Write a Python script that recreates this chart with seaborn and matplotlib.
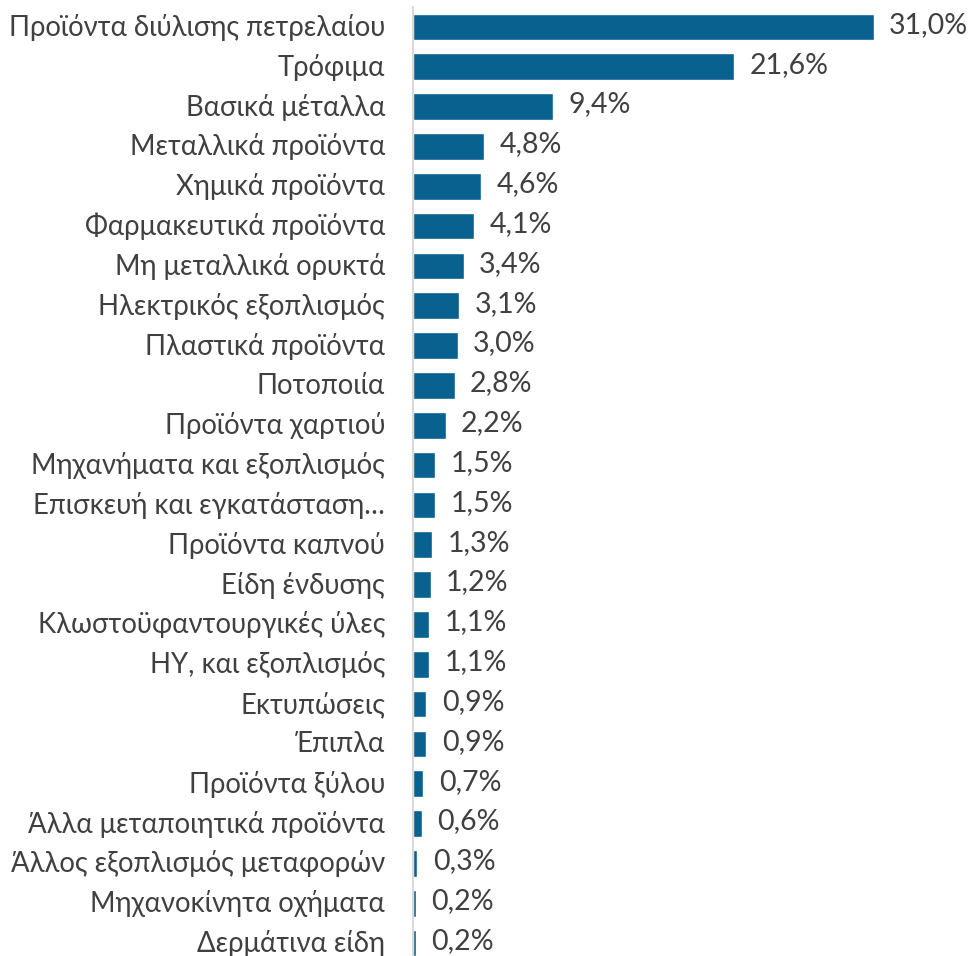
import seaborn as sns
import matplotlib.pyplot as plt
import matplotlib.transforms as mtransforms
import pandas as pd

categories = [
    "Προϊόντα διύλισης πετρελαίου", "Τρόφιμα", "Βασικά μέταλλα",
    "Μεταλλικά προϊόντα", "Χημικά προϊόντα", "Φαρμακευτικά προϊόντα",
    "Μη μεταλλικά ορυκτά", "Ηλεκτρικός εξοπλισμός", "Πλαστικά προϊόντα",
    "Ποτοποιία", "Προϊόντα χαρτιού", "Μηχανήματα και εξοπλισμός",
    "Επισκευή και εγκατάσταση…", "Προϊόντα καπνού", "Είδη ένδυσης",
    "Κλωστοϋφαντουργικές ύλες", "ΗΥ, και εξοπλισμός", "Εκτυπώσεις",
    "Έπιπλα", "Προϊόντα ξύλου", "Άλλα μεταποιητικά προϊόντα",
    "Άλλος εξοπλισμός μεταφορών", "Μηχανοκίνητα οχήματα", "Δερμάτινα είδη",
]
shares = [31.0, 21.6, 9.4, 4.8, 4.6, 4.1, 3.4, 3.1, 3.0, 2.8, 2.2, 1.5,
          1.5, 1.3, 1.2, 1.1, 1.1, 0.9, 0.9, 0.7, 0.6, 0.3, 0.2, 0.2]

df = pd.DataFrame({"cat": categories, "share": shares})

sns.set_style("white")
plt.rcParams['font.family'] = ['Lato', 'Open Sans', 'DejaVu Sans']

text_col = "#404040"
bar_col = "#08618F"

fig = plt.figure(figsize=(9.69, 9.56), dpi=100)
# axes placed in pixel terms: left edge at x=413, rows ~39.8px apart
ax = fig.add_axes([413 / 969, 1 - 963 / 956, 550 / 969, 956 / 956])

sns.barplot(data=df, x="share", y="cat", color=bar_col, width=0.67,
            saturation=1, ax=ax)

ax.set_xlim(0, 37)
ax.set_ylim(23.5, -0.5)
ax.set_xlabel("")
ax.set_ylabel("")
ax.set_xticks([])
ax.tick_params(axis="y", length=0, pad=20, labelsize=19.8, labelcolor=text_col)

# nudge labels up a touch so the last one's descenders stay on the canvas
shift = mtransforms.ScaledTranslation(0, 2 / 100, fig.dpi_scale_trans)
for lab in ax.get_yticklabels():
    lab.set_transform(lab.get_transform() + shift)

for s in ["top", "right", "bottom"]:
    ax.spines[s].set_visible(False)
ax.spines["left"].set_color("#d9d9d9")
ax.spines["left"].set_linewidth(1.5)

for i, v in enumerate(shares):
    ax.annotate(f"{v:.1f}".replace(".", ",") + "%", (v, i),
                xytext=(11, 1.5), textcoords="offset points",
                va="center", ha="left", fontsize=20.5, color=text_col)

fig.savefig("out.png", dpi=100)
